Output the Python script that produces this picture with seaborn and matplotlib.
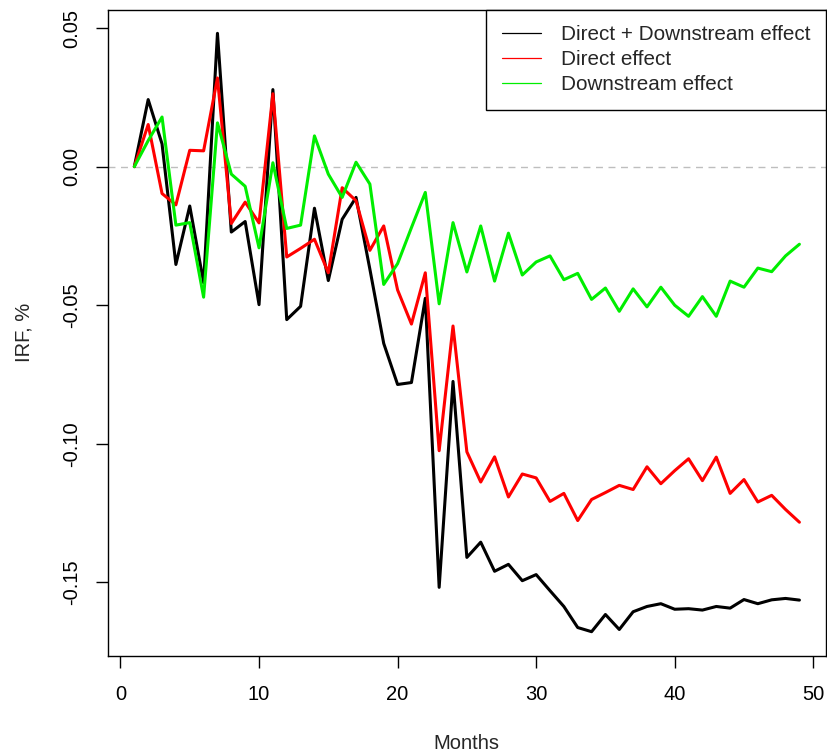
import numpy as np
import pandas as pd
import matplotlib
matplotlib.use("Agg")
import matplotlib.pyplot as plt
import seaborn as sns
from matplotlib.lines import Line2D

months = list(range(1, 50))

total_effect = [0.0, 0.0242, 0.0082, -0.0353, -0.0142, -0.0419, 0.0481, -0.0236, -0.0198, -0.0498,
                0.0278, -0.0552, -0.0504, -0.0150, -0.0411, -0.0190, -0.0111, -0.0370, -0.0638, -0.0786,
                -0.0779, -0.0475, -0.1518, -0.0775, -0.1410, -0.1355, -0.1460, -0.1435, -0.1494, -0.1472,
                -0.1530, -0.1587, -0.1663, -0.1678, -0.1616, -0.1670, -0.1606, -0.1587, -0.1577, -0.1597,
                -0.1595, -0.1600, -0.1587, -0.1593, -0.1562, -0.1577, -0.1563, -0.1558, -0.1564]

direct_effect = [0.0, 0.0152, -0.0097, -0.0138, 0.0059, 0.0057, 0.0320, -0.0205, -0.0128, -0.0203,
                 0.0263, -0.0326, -0.0295, -0.0262, -0.0383, -0.0076, -0.0123, -0.0302, -0.0214, -0.0445,
                 -0.0568, -0.0383, -0.1025, -0.0575, -0.1029, -0.1138, -0.1047, -0.1192, -0.1109, -0.1123,
                 -0.1208, -0.1179, -0.1277, -0.1201, -0.1176, -0.1150, -0.1165, -0.1083, -0.1144, -0.1097,
                 -0.1054, -0.1133, -0.1048, -0.1179, -0.1129, -0.1210, -0.1186, -0.1237, -0.1283]

downstream_effect = [0.0, 0.0094, 0.0179, -0.0211, -0.0202, -0.0471, 0.0158, -0.0027, -0.0071, -0.0293,
                     0.0014, -0.0223, -0.0211, 0.0111, -0.0027, -0.0111, 0.0016, -0.0063, -0.0425, -0.0350,
                     -0.0220, -0.0093, -0.0495, -0.0202, -0.0380, -0.0214, -0.0413, -0.0240, -0.0391, -0.0344,
                     -0.0322, -0.0408, -0.0385, -0.0479, -0.0438, -0.0522, -0.0441, -0.0506, -0.0435, -0.0500,
                     -0.0540, -0.0469, -0.0540, -0.0413, -0.0435, -0.0366, -0.0379, -0.0322, -0.0280]

series_names = ["Direct + Downstream effect", "Direct effect", "Downstream effect"]
series_colors = ["#000000", "#ff0000", "#00ee00"]

x_ticks = [0, 10, 20, 30, 40, 50]
y_ticks = [0.05, 0.00, -0.05, -0.10, -0.15]
y_tick_labels = ["0.05", "0.00", "-0.05", "-0.10", "-0.15"]

df = pd.DataFrame({
    "Months": months * 3,
    "IRF": total_effect + direct_effect + downstream_effect,
    "Series": [series_names[0]] * 49 + [series_names[1]] * 49 + [series_names[2]] * 49,
})

sns.set_style("white")
plt.rcParams["font.family"] = ["Liberation Sans", "DejaVu Sans"]

FS = 14.5
LFS = 14.9

fig = plt.figure(figsize=(8.28, 7.54), dpi=100)
ax = fig.add_axes([0.1301, 0.1306, 0.8675, 0.8568])

ax.axhline(0, color="#bebebe", linestyle=(0, (5, 4)), linewidth=1.0, zorder=1)

sns.lineplot(data=df, x="Months", y="IRF", hue="Series", hue_order=series_names,
             palette=series_colors, linewidth=2.2, ax=ax, legend=False, zorder=3)

ax.set_xlim(-0.92, 50.92)
ax.set_ylim(-0.1764, 0.0567)

ax.set_xticks(x_ticks)
ax.set_xticklabels([str(t) for t in x_ticks])
ax.set_yticks(y_ticks)
ax.set_yticklabels(y_tick_labels, rotation=90, va="center")

for s in ax.spines.values():
    s.set_color("black")
    s.set_linewidth(1.0)

ax.tick_params(axis="both", which="major", bottom=True, left=True, direction="out",
               length=8.6, width=1.0, color="black", labelsize=FS, labelcolor="black")
ax.tick_params(axis="x", pad=12.5)
ax.tick_params(axis="y", pad=10.5)

ax.set_xlabel("Months", fontsize=FS)
ax.set_ylabel("IRF, %", fontsize=FS)
ax.xaxis.set_label_coords(0.5, -0.122)
ax.yaxis.set_label_coords(-0.104, 0.5)

handles = [Line2D([0], [0], color=c, linewidth=0.9) for c in series_colors]
leg = ax.legend(handles, series_names, loc="upper right", fontsize=LFS,
                frameon=True, fancybox=False, edgecolor="black", framealpha=1,
                borderaxespad=0, handlelength=1.9, handletextpad=0.95,
                labelspacing=0.3, borderpad=0.75)
leg.get_frame().set_linewidth(1.0)

fig.savefig("out.png", dpi=100)
